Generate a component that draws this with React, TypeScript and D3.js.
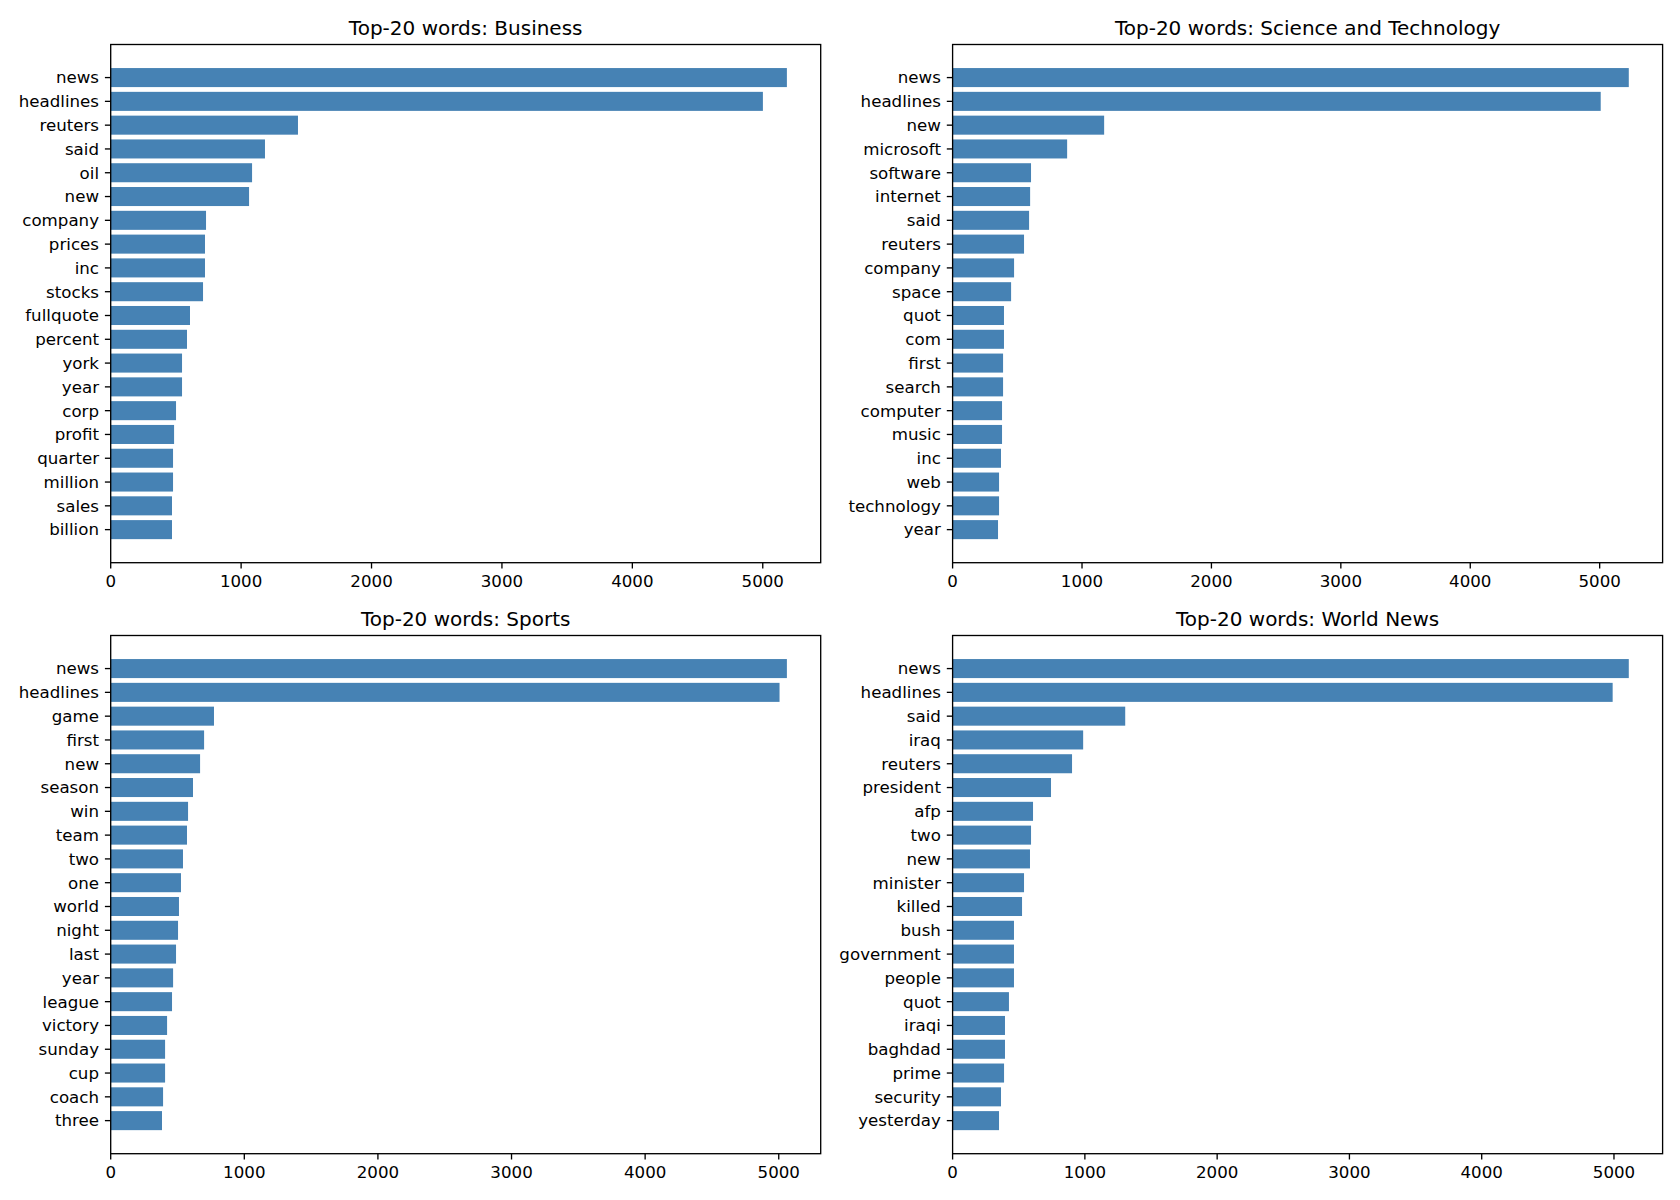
import React from 'react'
import * as d3 from 'd3'

// Top-20 word counts per category
const businessWords = ['news', 'headlines', 'reuters', 'said', 'oil', 'new', 'company', 'prices', 'inc', 'stocks', 'fullquote', 'percent', 'york', 'year', 'corp', 'profit', 'quarter', 'million', 'sales', 'billion']
const businessCounts = [5185, 5001, 1436, 1183, 1084, 1061, 731, 723, 723, 708, 608, 585, 547, 547, 501, 486, 478, 478, 470, 470]

const scienceWords = ['news', 'headlines', 'new', 'microsoft', 'software', 'internet', 'said', 'reuters', 'company', 'space', 'quot', 'com', 'first', 'search', 'computer', 'music', 'inc', 'web', 'technology', 'year']
const scienceCounts = [5225, 5008, 1171, 885, 606, 599, 591, 552, 475, 452, 397, 397, 390, 390, 382, 382, 374, 359, 359, 351]

const sportsWords = ['news', 'headlines', 'game', 'first', 'new', 'season', 'win', 'team', 'two', 'one', 'world', 'night', 'last', 'year', 'league', 'victory', 'sunday', 'cup', 'coach', 'three']
const sportsCounts = [5061, 5006, 773, 699, 669, 616, 579, 571, 541, 526, 511, 504, 489, 467, 459, 422, 407, 407, 392, 384]

const worldWords = ['news', 'headlines', 'said', 'iraq', 'reuters', 'president', 'afp', 'two', 'new', 'minister', 'killed', 'bush', 'government', 'people', 'quot', 'iraqi', 'baghdad', 'prime', 'security', 'yesterday']
const worldCounts = [5112, 4990, 1305, 987, 903, 744, 608, 593, 585, 540, 525, 464, 464, 464, 426, 396, 396, 389, 366, 351]

const panelTitles = ['Business', 'Science and Technology', 'Sports', 'World News']

const W = 1680
const H = 1200
const FONT = '"DejaVu Sans", sans-serif'
const BAR = '#4682b4'

type PanelProps = {
    title: string
    words: string[]
    counts: number[]
    x0: number
    y0: number
    w: number
    h: number
}

const Panel: React.FC<PanelProps> = ({ title, words, counts, x0, y0, w, h }) => {
    const xMax = (d3.max(counts) || 0) * 1.05
    const x = d3.scaleLinear().domain([0, xMax]).range([0, w])
    // matplotlib barh: bars at 0..n-1, height 0.8, 5% margins, inverted
    const n = words.length
    const pad = 0.05 * (n - 1 + 0.8)
    const y = d3.scaleLinear().domain([-0.4 - pad, n - 1 + 0.4 + pad]).range([0, h])
    const bw = y(0.8) - y(0)
    const ticks = x.ticks(6).filter(t => t <= xMax)

    return (
        <g transform={`translate(${x0},${y0})`}>
            <text x={w / 2} y={-10} textAnchor="middle" fontSize={20} fontFamily={FONT} fill="#000">
                {`Top-20 words: ${title}`}
            </text>
            {words.map((wd, i) => (
                <rect key={wd} x={x(0)} y={y(i) - bw / 2} width={x(counts[i]) - x(0)} height={bw} fill={BAR} />
            ))}
            {words.map((wd, i) => (
                <g key={'yt' + wd} transform={`translate(0,${y(i)})`}>
                    <line x1={-5.8} x2={0} stroke="#000" strokeWidth={1.33} />
                    <text x={-11.7} dy="0.35em" textAnchor="end" fontSize={16.67} fontFamily={FONT} fill="#000">{wd}</text>
                </g>
            ))}
            {ticks.map(t => (
                <g key={'xt' + t} transform={`translate(${x(t)},${h})`}>
                    <line y1={0} y2={5.8} stroke="#000" strokeWidth={1.33} />
                    <text y={11.7} dy="0.76em" textAnchor="middle" fontSize={16.67} fontFamily={FONT} fill="#000">{t}</text>
                </g>
            ))}
            <rect x={0} y={0} width={w} height={h} fill="none" stroke="#000" strokeWidth={1.33} />
        </g>
    )
}

export default function App() {
    const panels = [
        { words: businessWords, counts: businessCounts },
        { words: scienceWords, counts: scienceCounts },
        { words: sportsWords, counts: sportsCounts },
        { words: worldWords, counts: worldCounts },
    ]
    const cols = [110.7, 952.6]
    const rows = [44.5, 635.5]
    const pw = 710
    const ph = 518.2

    return (
        <div style={{ position: 'absolute', left: 0, top: 0 }}>
            <svg width={W} height={H} viewBox={`0 0 ${W} ${H}`} style={{ display: 'block', background: '#fff' }}>
                <rect width={W} height={H} fill="#fff" />
                {panels.map((p, i) => (
                    <Panel
                        key={i}
                        title={panelTitles[i]}
                        words={p.words}
                        counts={p.counts}
                        x0={cols[i % 2]}
                        y0={rows[Math.floor(i / 2)]}
                        w={pw}
                        h={ph}
                    />
                ))}
            </svg>
        </div>
    )
}
